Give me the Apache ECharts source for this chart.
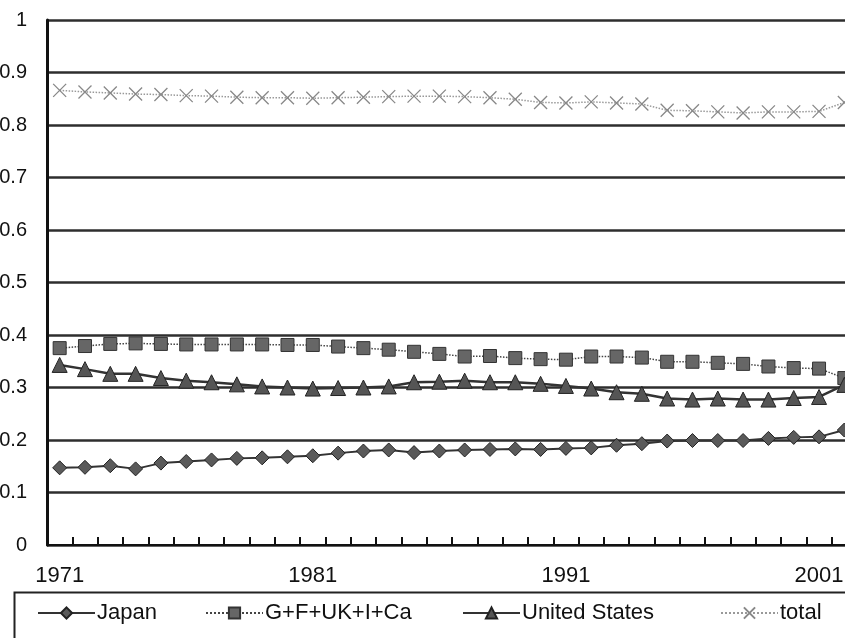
<!DOCTYPE html>
<html>
<head>
<meta charset="utf-8">
<script src="https://cdn.jsdelivr.net/npm/echarts@6/dist/echarts.min.js"></script>
<style>html,body{margin:0;padding:0;background:#fff;}#c{width:845px;height:638px;}</style>
</head>
<body>
<div id="c"></div>
<script>
const years = [];
for (let y = 1971; y <= 2002; y++) years.push(String(y));

const japan = [0.147,0.148,0.151,0.145,0.156,0.159,0.162,0.165,0.166,0.168,
  0.170,0.175,0.179,0.181,0.176,0.179,0.181,0.182,0.183,0.182,
  0.184,0.185,0.190,0.193,0.198,0.199,0.199,0.199,0.203,0.205,0.206,0.219];
const gfukica = [0.375,0.379,0.383,0.384,0.383,0.382,0.382,0.382,0.382,0.381,
  0.381,0.378,0.375,0.372,0.368,0.364,0.359,0.360,0.356,0.354,
  0.353,0.359,0.359,0.357,0.349,0.349,0.347,0.345,0.340,0.337,0.336,0.318];
const us = [0.343,0.335,0.326,0.326,0.318,0.313,0.310,0.306,0.302,0.300,
  0.298,0.299,0.300,0.302,0.310,0.311,0.313,0.310,0.310,0.307,
  0.303,0.298,0.291,0.288,0.279,0.277,0.279,0.277,0.277,0.280,0.282,0.305];
const total = [0.866,0.863,0.861,0.859,0.858,0.856,0.855,0.853,0.852,0.852,
  0.851,0.852,0.853,0.854,0.855,0.855,0.854,0.852,0.849,0.843,
  0.842,0.844,0.842,0.840,0.828,0.827,0.825,0.823,0.825,0.825,0.826,0.843];
const names = ['Japan', 'G+F+UK+I+Ca', 'United States', 'total'];

const font = '"Liberation Sans", Arial, sans-serif';
const chart = echarts.init(document.getElementById('c'), null, {renderer: 'canvas'});

function legendAt(name, left) {
  return {
    data: [name], left: left, top: 602, padding: 0,
    itemWidth: 57, itemHeight: 14, itemGap: 0,
    selectedMode: false,
    textStyle: {fontFamily: font, fontSize: 22, color: '#111', padding: [0,0,0,-3]}
  };
}

chart.setOption({
  animation: false,
  backgroundColor: '#fff',
  grid: {left: 47, top: 20, width: 810, height: 525, outerBoundsMode: 'none', containLabel: false},
  graphic: [{
    type: 'rect', left: 12, top: 590, silent: true,
    shape: {width: 900, height: 100},
    style: {fill: 'none', stroke: '#222', lineWidth: 2}
  }],
  legend: [
    legendAt(names[0], 37),
    legendAt(names[1], 205),
    legendAt(names[2], 462),
    legendAt(names[3], 720)
  ],
  xAxis: {
    type: 'category', data: years, boundaryGap: true,
    axisLine: {lineStyle: {color: '#111', width: 2}},
    axisTick: {show: true, inside: true, length: 8, interval: 0, lineStyle: {color: '#111', width: 2}},
    axisLabel: {interval: 9, margin: 20, fontFamily: font, fontSize: 22, color: '#111'},
    splitLine: {show: false}
  },
  yAxis: {
    type: 'value', min: 0, max: 1, interval: 0.1,
    axisLine: {show: true, lineStyle: {color: '#111', width: 3}},
    axisTick: {show: false},
    axisLabel: {margin: 20, fontFamily: font, fontSize: 20, color: '#111'},
    splitLine: {show: true, lineStyle: {color: '#2e2e2e', width: 2.5}}
  },
  series: [
    {
      name: names[0], type: 'line', data: japan,
      symbol: 'diamond', symbolSize: 14,
      lineStyle: {color: '#333', width: 2},
      itemStyle: {color: '#5a5a5a', borderColor: '#222', borderWidth: 1},
      emphasis: {disabled: true}
    },
    {
      name: names[1], type: 'line', data: gfukica,
      symbol: 'rect', symbolSize: 13,
      lineStyle: {color: '#444', width: 1.5, type: 'dotted'},
      itemStyle: {color: '#666', borderColor: '#333', borderWidth: 1},
      emphasis: {disabled: true}
    },
    {
      name: names[2], type: 'line', data: us,
      symbol: 'triangle', symbolSize: 15,
      lineStyle: {color: '#333', width: 2.5},
      itemStyle: {color: '#555', borderColor: '#222', borderWidth: 1},
      emphasis: {disabled: true}
    },
    {
      name: names[3], type: 'line', data: total,
      symbol: 'path://M0,0L10,10M10,0L0,10', symbolSize: 13,
      lineStyle: {color: '#999', width: 1.5, type: 'dotted'},
      itemStyle: {color: 'rgba(0,0,0,0)', borderColor: '#888', borderWidth: 1.3},
      emphasis: {disabled: true}
    }
  ]
});
</script>
</body>
</html>
